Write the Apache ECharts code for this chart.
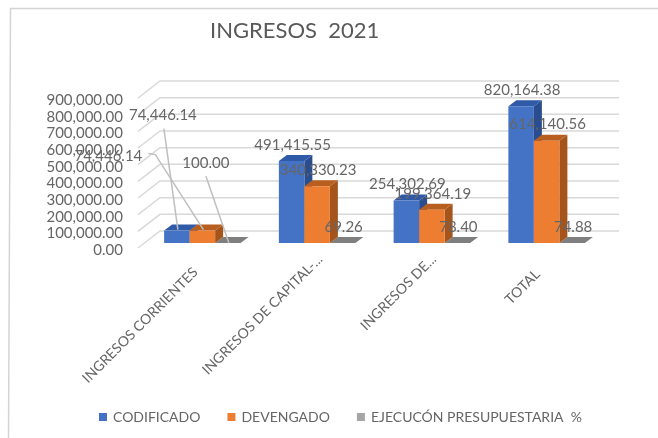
<!DOCTYPE html>
<html>
<head>
<meta charset="utf-8">
<style>
  html, body { margin: 0; padding: 0; background: #fff; }
  #chart { width: 658px; height: 438px; }
</style>
<script src="https://cdn.jsdelivr.net/npm/echarts@6/dist/echarts.min.js"></script>
</head>
<body>
<div id="chart"></div>
<script>
const categories = ['INGRESOS CORRIENTES', 'INGRESOS DE CAPITAL-...', 'INGRESOS DE...', 'TOTAL']
const codificado = [74446.14, 491415.55, 254302.69, 820164.38]
const devengado = [74446.14, 340330.23, 199364.19, 614140.56]
const ejecucion = [100.00, 69.26, 78.40, 74.88]
const yTicks = [0, 100000, 200000, 300000, 400000, 500000, 600000, 700000, 800000, 900000]
const seriesNames = ['CODIFICADO', 'DEVENGADO', 'EJECUCÓN PRESUPUESTARIA  %']

const FONT = 'Lato, "Open Sans", sans-serif'
const TEXT = '#666666'
const GRID = '#d9d9d9'
const LIFT = 2   // tick labels sit a little under their gridlines
const WALL_DX = 22, WALL_DY = -17   // depth of the floor
const BAR_W = 25.5, BAR_DX = 8, BAR_DY = -6
const colors = [
  { front: '#4472c4', top: '#2f5aa8', side: '#2a4d8f' },
  { front: '#ed7d31', top: '#b85f20', side: '#a5551c' },
  { front: '#a5a5a5', top: '#7f7f7f', side: '#7f7f7f' }
]
// first category labels are dragged away from their bars in the original: [dx, dy, lineStartDx, lineStartDy]
const movedLabels = [[-15, -99, 1, 13], [-95, -58, 40, -3], [-23, -64, 0, 13]]
const catLabelShift = [[0, 22], [10, 9], [9, 9], [-2, 24]]

const fmt = v => v.toLocaleString('en-US', { minimumFractionDigits: 2, maximumFractionDigits: 2 })

function barBox(api, slot) {
  let idx = api.value(0)
  let top = api.coord([idx, api.value(1)])
  let base = api.coord([idx, 0])
  let x = top[0] + 7 - BAR_W * 1.5 + slot * BAR_W
  return { x, top: top[1] - 5 - LIFT, bottom: base[1] - 5 - LIFT }
}

function renderBar(slot) {
  return function(params, api) {
    let b = barBox(api, slot)
    let c = colors[slot]
    let x2 = b.x + BAR_W
    return {
      type: 'group',
      children: [
        { type: 'polygon', shape: { points: [[x2, b.bottom], [x2 + BAR_DX, b.bottom + BAR_DY], [x2 + BAR_DX, b.top + BAR_DY], [x2, b.top]] }, style: { fill: c.side } },
        { type: 'polygon', shape: { points: [[b.x, b.top], [x2, b.top], [x2 + BAR_DX, b.top + BAR_DY], [b.x + BAR_DX, b.top + BAR_DY]] }, style: { fill: c.top } },
        { type: 'rect', shape: { x: b.x, y: b.top, width: BAR_W, height: b.bottom - b.top }, style: { fill: c.front } }
      ]
    }
  }
}

function renderWall(params, api) {
  let y = api.coord([0, api.value(0)])[1] - LIFT
  let cs = params.coordSys
  return {
    type: 'polyline',
    shape: { points: [[cs.x, y], [cs.x + WALL_DX, y + WALL_DY], [cs.x + cs.width + WALL_DX, y + WALL_DY]] },
    style: { stroke: GRID, lineWidth: 1.5, fill: 'none' }
  }
}

function renderValueLabel(params, api) {
  let idx = api.value(0)
  let slot = api.value(2)
  let b = barBox(api, slot)
  let cx = b.x + BAR_W / 2
  let lx = cx + 1, ly = b.top - 16
  let children = []
  if (idx === 0) {
    let m = movedLabels[slot]
    lx += m[0]
    ly += m[1]
    let pts = [[lx + m[2], ly + m[3]]]
    if (slot === 1) pts.push([lx + m[2] + 7, ly + m[3] + 1])
    pts.push([cx + 1, b.top + (slot === 2 ? 0 : -1)])
    children.push({ type: 'polyline', shape: { points: pts }, style: { stroke: '#bfbfbf', lineWidth: 1.5, fill: 'none' } })
  }
  children.push({
    type: 'text',
    style: { x: lx, y: ly, text: fmt(api.value(1)), align: 'center', verticalAlign: 'middle', fill: TEXT, font: '15px ' + FONT }
  })
  return { type: 'group', children }
}

function renderCatLabel(params, api) {
  let idx = api.value(0)
  let p = api.coord([idx, 0])
  let s = catLabelShift[idx]
  return {
    type: 'text',
    x: p[0] + s[0],
    y: p[1] - LIFT + s[1],
    rotation: Math.PI / 4,
    style: { x: 0, y: 0, text: categories[idx], align: 'right', verticalAlign: 'middle', fill: TEXT, font: '14px ' + FONT }
  }
}

const barSeries = [codificado, devengado, ejecucion].map((vals, slot) => ({
  name: seriesNames[slot],
  type: 'custom',
  coordinateSystem: 'cartesian2d',
  renderItem: renderBar(slot),
  clip: false,
  silent: true,
  z: slot === 2 ? 2 : 3,
  itemStyle: { color: colors[slot].front },
  data: vals.map((v, i) => [i, v])
}))

const labelRows = []
;[codificado, devengado, ejecucion].forEach((vals, slot) => {
  vals.forEach((v, i) => labelRows.push([i, v, slot]))
})

const chart = echarts.init(document.getElementById('chart'), null, { renderer: 'canvas' })
chart.setOption({
  animation: false,
  backgroundColor: '#fff',
  textStyle: { fontFamily: FONT },
  title: {
    text: 'INGRESOS  2021',
    left: 205,
    top: 15,
    textStyle: { color: '#595959', fontSize: 22, fontWeight: 'normal', fontFamily: FONT }
  },
  legend: {
    data: seriesNames,
    left: 94,
    top: 405,
    icon: 'rect',
    itemWidth: 8,
    itemHeight: 8,
    itemGap: 27,
    selectedMode: false,
    textStyle: { color: TEXT, fontSize: 14, fontFamily: FONT, padding: [0, 0, 0, 1] }
  },
  grid: { left: 138, right: 61, top: 100, bottom: 188 },
  xAxis: {
    type: 'category',
    data: categories,
    axisLine: { show: false },
    axisTick: { show: false },
    axisLabel: { show: false },
    splitLine: { show: false }
  },
  yAxis: {
    type: 'value',
    min: 0,
    max: 900000,
    interval: 100000,
    axisLine: { show: false },
    axisTick: { show: false },
    splitLine: { show: false },
    axisLabel: { margin: 15, color: TEXT, fontSize: 15, fontFamily: FONT, formatter: v => fmt(v) }
  },
  graphic: [
    { type: 'polyline', silent: true, shape: { points: [[658, 8.5], [10.5, 8.5], [8.5, 438]] }, style: { stroke: '#d4d4d4', lineWidth: 1.5, fill: 'none' } }
  ],
  series: [
    {
      type: 'custom',
      coordinateSystem: 'cartesian2d',
      renderItem: renderWall,
      clip: false,
      silent: true,
      z: 1,
      data: yTicks.map(v => [v]),
      encode: { y: 0 }
    },
    ...barSeries,
    {
      type: 'custom',
      coordinateSystem: 'cartesian2d',
      renderItem: renderValueLabel,
      clip: false,
      silent: true,
      z: 5,
      data: labelRows
    },
    {
      type: 'custom',
      coordinateSystem: 'cartesian2d',
      renderItem: renderCatLabel,
      clip: false,
      silent: true,
      z: 5,
      data: categories.map((c, i) => [i, 0])
    }
  ]
})
</script>
</body>
</html>
